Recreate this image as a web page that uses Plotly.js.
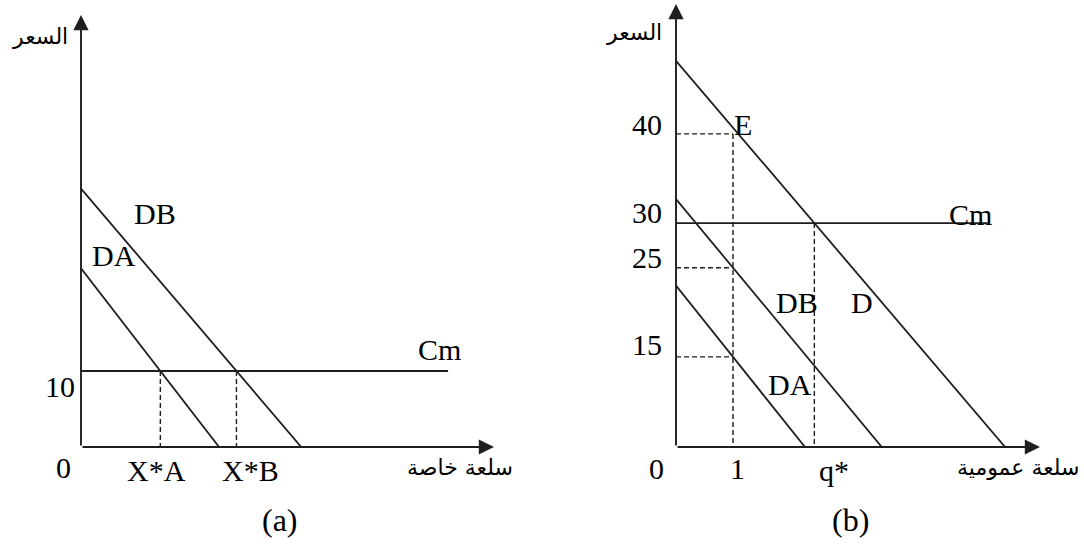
<!DOCTYPE html>
<html>
<head>
<meta charset="utf-8">
<script src="https://cdn.plot.ly/plotly-3.0.1.min.js"></script>
<style>
  html, body { margin: 0; padding: 0; background: #ffffff; }
  #chart { width: 1084px; height: 560px; }
</style>
</head>
<body>
<div id="chart"></div>
<script>
// ---- (a) private good ----
const privateCost = 10;                       // Cm
const privateCurves = ['DA', 'DB'];
const privateIntercepts = [23.5, 34];
const privateSlopes = [9.7, 8.8];
const privateQtyLabels = ['X*A', 'X*B'];

// ---- (b) public good ----
const publicCost = 30;                        // Cm
const publicCurves = ['DA', 'DB', 'D'];
const publicIntercepts = [23, 32.7, 48.2];
const publicSlopes = [8, 7.7, 7.5];
const publicQty = 1;
const publicPrices = [15, 25, 40];            // DA, DB, D read at q = 1
const publicQtyLabels = ['1', 'q*'];

const priceTitle = 'السعر';
const privateTitle = 'سلعة خاصة';
const publicTitle = 'سلعة عمومية';
const panelTitles = ['(a)', '(b)'];

// ---- geometry ----
const W = 1084, H = 560;
const ink = '#1e1e1e';
const serif = '"Liberation Serif", "Times New Roman", serif';
const arabic = '"DejaVu Sans", sans-serif';
const textSize = 30;
const arabicSize = 22;

// plot boxes in pixels: left, right (arrow tip), bottom (x axis), top (arrow tip)
const boxA = { l: 81, r: 494, b: 447, t: 15 };
const boxB = { l: 676, r: 1040, b: 447, t: 4 };
const qScale = 57;                 // px per unit of quantity
const pScaleA = 7.6;               // px per price unit, panel a
const pScaleB = 8.92;              // px per price unit, panel b
const floorB = 4.9;                // price at the horizontal axis of panel b

const xRangeA = [0, (boxA.r - boxA.l) / qScale];
const yRangeA = [0, (boxA.b - boxA.t) / pScaleA];
const xRangeB = [0, (boxB.r - boxB.l) / qScale];
const yRangeB = [floorB, floorB + (boxB.b - boxB.t) / pScaleB];
const cmEndA = 6.44;
const cmEndB = 5.47;

const solid = { color: ink, width: 1.8 };
const dashed = { color: ink, width: 1.4, dash: '5px,3px' };

const traces = [];
function seg(xs, ys, line, axis) {
  traces.push({
    type: 'scatter', mode: 'lines', x: xs, y: ys, line: line,
    xaxis: axis === 'b' ? 'x2' : 'x', yaxis: axis === 'b' ? 'y2' : 'y',
    hoverinfo: 'skip', showlegend: false
  });
}

// panel a
seg([0, cmEndA], [privateCost, privateCost], solid, 'a');
const privateQty = [];
privateCurves.forEach((name, i) => {
  const b = privateIntercepts[i], m = privateSlopes[i];
  seg([0, b / m], [b, 0], solid, 'a');
  const q = (b - privateCost) / m;
  privateQty.push(q);
  seg([q, q], [privateCost, 0], dashed, 'a');
});

// panel b
seg([0, cmEndB], [publicCost, publicCost], solid, 'b');
publicCurves.forEach((name, i) => {
  const b = publicIntercepts[i], m = publicSlopes[i];
  seg([0, (b - floorB) / m], [b, floorB], solid, 'b');
});
publicPrices.forEach(p => seg([0, publicQty], [p, p], dashed, 'b'));
seg([publicQty, publicQty], [Math.max(...publicPrices), floorB], dashed, 'b');
const iD = publicCurves.indexOf('D');
const qStar = (publicIntercepts[iD] - publicCost) / publicSlopes[iD];
seg([qStar, qStar], [publicCost, floorB], dashed, 'b');

// ---- text ----
const ann = [];
function paperText(text, x, y, opts) {
  ann.push(Object.assign({
    text: text, xref: 'paper', yref: 'paper', x: x / W, y: 1 - y / H,
    showarrow: false, xanchor: 'center', yanchor: 'middle',
    font: { family: serif, size: textSize, color: '#000' }
  }, opts || {}));
}
function dataText(text, axis, x, y, opts) {
  ann.push(Object.assign({
    text: text, xref: axis === 'b' ? 'x2' : 'x', yref: axis === 'b' ? 'y2' : 'y',
    x: x, y: y, showarrow: false, xanchor: 'center', yanchor: 'middle',
    font: { family: serif, size: textSize, color: '#000' }
  }, opts || {}));
}
function axisArrow(axis, x, y, x0, y0) {
  ann.push({
    text: '', xref: axis === 'b' ? 'x2' : 'x', yref: axis === 'b' ? 'y2' : 'y',
    axref: axis === 'b' ? 'x2' : 'x', ayref: axis === 'b' ? 'y2' : 'y',
    x: x, y: y, ax: x0, ay: y0, showarrow: true,
    arrowhead: 2, arrowsize: 1.6, arrowwidth: 1.9, arrowcolor: ink, standoff: 0
  });
}

// axes with arrow tips
axisArrow('a', 0, yRangeA[1], 0, 0);
axisArrow('a', xRangeA[1], 0, 0, 0);
axisArrow('b', 0, yRangeB[1], 0, floorB);
axisArrow('b', xRangeB[1], floorB, 0, floorB);

const arabicFont = { family: arabic, size: arabicSize, color: '#000' };

// panel a labels
dataText('0', 'a', 0, 0, { xanchor: 'right', xshift: -8, yshift: -20 });
dataText(String(privateCost), 'a', 0, privateCost, { xanchor: 'right', xshift: -4, yshift: -15 });
dataText(privateQtyLabels[0], 'a', privateQty[0], 0, { xshift: -4, yshift: -23 });
dataText(privateQtyLabels[1], 'a', privateQty[1], 0, { xshift: 14, yshift: -23 });
paperText(privateCurves[0], 114, 256);
paperText(privateCurves[1], 155, 213);
paperText('Cm', 439, 349);
paperText(priceTitle, 40, 36, { font: arabicFont });
paperText(privateTitle, 460, 467, { font: arabicFont });
paperText(panelTitles[0], 280, 520, { font: { family: serif, size: 32, color: '#000' } });

// panel b labels
dataText('0', 'b', 0, floorB, { xanchor: 'right', xshift: -10, yshift: -21 });
publicPrices.forEach((p, i) => {
  const lift = [12, 10, 9][i];
  dataText(String(p), 'b', 0, p, { xanchor: 'right', xshift: -12, yshift: lift });
});
dataText(String(publicCost), 'b', 0, publicCost, { xanchor: 'right', xshift: -12, yshift: 11 });
dataText(publicQtyLabels[0], 'b', publicQty, floorB, { xshift: 4, yshift: -21 });
dataText(publicQtyLabels[1], 'b', qStar, floorB, { xshift: 20, yshift: -23 });
dataText('E', 'b', publicQty, Math.max(...publicPrices), { xshift: 10, yshift: 9 });
paperText('Cm', 970, 214);
paperText(publicCurves[0], 790, 384);
paperText(publicCurves[1], 797, 302);
paperText(publicCurves[2], 862, 302);
paperText(priceTitle, 634, 32, { font: arabicFont });
paperText(publicTitle, 1082, 467, { xanchor: 'right', font: arabicFont });
paperText(panelTitles[1], 850, 520, { font: { family: serif, size: 32, color: '#000' } });

const hidden = { visible: false, fixedrange: true, showgrid: false, zeroline: false };
const layout = {
  width: W, height: H,
  margin: { l: 0, r: 0, t: 0, b: 0, pad: 0 },
  paper_bgcolor: '#ffffff', plot_bgcolor: 'rgba(0,0,0,0)',
  showlegend: false,
  xaxis: Object.assign({ domain: [boxA.l / W, boxA.r / W], range: xRangeA, anchor: 'y' }, hidden),
  yaxis: Object.assign({ domain: [1 - boxA.b / H, 1 - boxA.t / H], range: yRangeA, anchor: 'x' }, hidden),
  xaxis2: Object.assign({ domain: [boxB.l / W, boxB.r / W], range: xRangeB, anchor: 'y2' }, hidden),
  yaxis2: Object.assign({ domain: [1 - boxB.b / H, 1 - boxB.t / H], range: yRangeB, anchor: 'x2' }, hidden),
  annotations: ann
};

Plotly.newPlot('chart', traces, layout, { displayModeBar: false, staticPlot: true });
</script>
</body>
</html>
